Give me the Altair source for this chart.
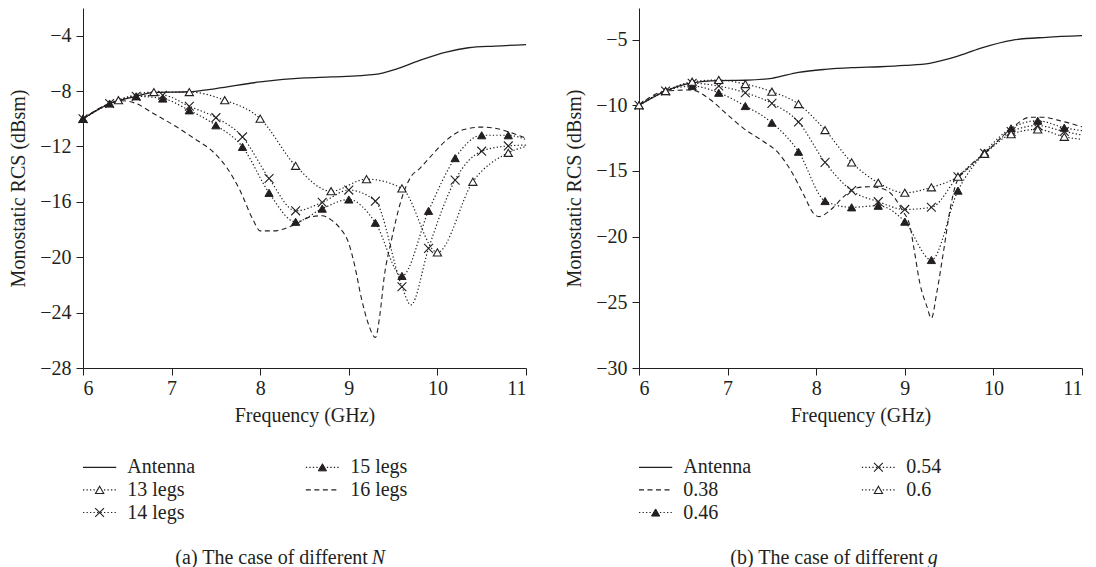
import altair as alt
import pandas as pd
import numpy as np

FONT = "Liberation Serif"
INK = "#231f20"
FS = 20

# ---------------- data: panel (a), different N ----------------
A_ANT_F = [6.0, 6.3, 6.6, 6.8, 7.2, 7.5, 8.0, 8.5, 8.8, 9.3, 9.55, 9.8, 10.1, 10.35, 10.65, 11.0]
A_ANT_V = [-10.0, -8.9, -8.38, -8.1, -8.05, -7.82, -7.34, -7.05, -6.98, -6.8, -6.38, -5.78, -5.18, -4.87, -4.75, -4.65]

A_13_F = [6.0, 6.4, 6.8, 7.2, 7.6, 8.0, 8.4, 8.8, 9.2, 9.6, 10.0, 10.4, 10.8, 11.0]
A_13_V = [-10.0, -8.66, -8.07, -8.07, -8.66, -9.99, -13.4, -15.23, -14.36, -15.03, -19.65, -14.55, -12.46, -12.0]

A_14_F = [6.0, 6.3, 6.6, 6.9, 7.2, 7.5, 7.8, 8.1, 8.4, 8.7, 9.0, 9.3, 9.6, 9.7, 9.9, 10.2, 10.5, 10.8, 11.0]
A_14_V = [-10.0, -8.9, -8.38, -8.3, -9.1, -9.92, -11.31, -14.31, -16.65, -16.04, -15.15, -15.95, -22.13, -23.45, -19.36, -14.43, -12.34, -11.96, -11.9]

A_15_F = [6.0, 6.3, 6.6, 6.9, 7.2, 7.5, 7.8, 8.1, 8.4, 8.7, 9.0, 9.3, 9.6, 9.9, 10.2, 10.5, 10.8, 11.0]
A_15_V = [-10.0, -8.9, -8.38, -8.54, -9.39, -10.47, -12.03, -15.35, -17.44, -16.49, -15.83, -17.51, -21.35, -16.65, -12.84, -11.19, -11.19, -11.5]

A_16_F = [6.0, 6.3, 6.45, 6.6, 6.79, 7.06, 7.25, 7.47, 7.62, 7.77, 7.92, 8.0, 8.15, 8.37, 8.56, 8.7, 8.8, 8.9,
          9.0, 9.07, 9.14, 9.22, 9.3, 9.35, 9.4, 9.48, 9.59, 9.7, 9.8, 9.92, 10.1, 10.3, 10.5, 10.68, 10.86, 11.0]
A_16_V = [-10.0, -8.9, -8.7, -8.9, -9.6, -10.6, -11.4, -12.4, -13.5, -15.15, -17.3, -18.1, -18.1, -17.7, -17.1, -17.0, -17.3, -17.9,
          -19.0, -20.7, -22.9, -24.8, -25.8, -24.2, -21.4, -18.8, -15.9, -14.2, -13.6, -12.75, -11.55, -10.78, -10.6, -10.72, -11.07, -11.4]

# ---------------- data: panel (b), different g ----------------
B_ANT_F = [6.0, 6.3, 6.6, 6.9, 7.2, 7.5, 7.8, 8.1, 8.4, 8.72, 9.0, 9.28, 9.58, 9.85, 10.22, 10.6, 11.0]
B_ANT_V = [-10.0, -8.92, -8.3, -8.13, -8.1, -7.95, -7.5, -7.27, -7.14, -7.07, -6.97, -6.81, -6.31, -5.67, -5.04, -4.83, -4.71]

B_038_F = [6.0, 6.3, 6.59, 6.81, 6.96, 7.18, 7.41, 7.56, 7.71, 7.86, 7.97, 8.03, 8.16, 8.31, 8.45, 8.6, 8.72, 8.84,
           8.97, 9.06, 9.1, 9.17, 9.25, 9.3, 9.36, 9.44, 9.51, 9.58, 9.69, 9.8, 9.9, 10.2, 10.41, 10.56, 10.79, 11.0]
B_038_V = [-10.0, -8.92, -8.84, -9.6, -10.49, -11.76, -12.78, -13.54, -14.93, -16.83, -18.23, -18.48, -17.98, -16.96, -16.3, -16.2, -16.3, -16.7,
           -17.98, -19.25, -20.77, -23.55, -25.33, -26.22, -24.3, -21.0, -17.97, -15.94, -14.93, -14.2, -13.66, -11.8, -10.92, -10.92, -11.25, -11.64]

B_F = [6.0, 6.3, 6.6, 6.9, 7.2, 7.5, 7.8, 8.1, 8.4, 8.7, 9.0, 9.3, 9.6, 9.9, 10.2, 10.5, 10.8, 11.0]
B_046_V = [-10.0, -8.92, -8.54, -9.05, -10.06, -11.33, -13.54, -17.29, -17.77, -17.65, -18.86, -21.78, -16.5, -13.6, -11.76, -11.18, -11.71, -11.94]
B_054_V = [-10.0, -8.92, -8.33, -8.54, -9.05, -9.86, -11.28, -14.35, -16.5, -17.34, -17.93, -17.77, -15.44, -13.66, -12.0, -11.55, -12.0, -12.27]
B_060_V = [-10.0, -8.92, -8.21, -8.08, -8.39, -8.97, -9.91, -11.89, -14.35, -15.9, -16.66, -16.25, -15.44, -13.7, -12.2, -11.84, -12.4, -12.6]

XTICKS = [6, 7, 8, 9, 10, 11]
A_YTICKS = [-28, -24, -20, -16, -12, -8, -4]
B_YTICKS = [-30, -25, -20, -15, -10, -5]
A_YDOM = [-28, -2]
B_YDOM = [-30, -2.6]

# (label, freqs, values, line style, marker, marker step in GHz)
SERIES_A = [
    ("Antenna", A_ANT_F, A_ANT_V, "solid", None, None),
    ("13 legs", A_13_F, A_13_V, "dot", "open", 0.4),
    ("14 legs", A_14_F, A_14_V, "dot", "x", 0.3),
    ("15 legs", A_15_F, A_15_V, "dot", "filled", 0.3),
    ("16 legs", A_16_F, A_16_V, "dash", None, None),
]
SERIES_B = [
    ("Antenna", B_ANT_F, B_ANT_V, "solid", None, None),
    ("0.38", B_038_F, B_038_V, "dash", None, None),
    ("0.46", B_F, B_046_V, "dot", "filled", 0.3),
    ("0.54", B_F, B_054_V, "dot", "x", 0.3),
    ("0.6", B_F, B_060_V, "dot", "open", 0.3),
]

# ---------------- styles / layout ----------------
W, H = 443, 360
LEG_H = 113
LINE = {
    "solid": dict(strokeWidth=1.3),
    "dot": dict(strokeWidth=1.2, strokeDash=[1.3, 2.2]),
    "dash": dict(strokeWidth=1.1, strokeDash=[5, 3.5]),
}
XPATH = "M-1,-1L1,1M-1,1L1,-1"
MARK = {
    "open": dict(shape="triangle-up", filled=True, fill="white", stroke=INK, strokeWidth=1.1, size=68, opacity=1),
    "filled": dict(shape="triangle-up", filled=True, fill=INK, stroke=INK, strokeWidth=1, size=68, opacity=1),
    "x": dict(shape=XPATH, filled=False, stroke=INK, strokeWidth=1.1, size=78, opacity=1),
}
LEG_COL = [0.0, 0.503]
LEG_LEN = 0.075
LEG_TXT = 0.1
CAP_SPLIT = 0.652


def plot_panel(series, ydom, yticks):
    xs = alt.Scale(domain=[6, 11], nice=False, zero=False)
    ys = alt.Scale(domain=ydom, nice=False, zero=False)
    xax = alt.Axis(values=XTICKS, title="Frequency (GHz)", format="d", tickSize=7,
                   labelPadding=3, titleY=47, titleBaseline="middle", grid=False)
    yax = alt.Axis(values=yticks, title="Monostatic RCS (dBsm)", format="d", tickSize=7,
                   labelPadding=5, titleX=-65, titleY=H / 2, titleBaseline="middle", grid=False)
    enc = dict(x=alt.X("f:Q", scale=xs, axis=xax), y=alt.Y("v:Q", scale=ys, axis=yax))
    lines, marks = [], []
    for name, F, V, style, marker, step in series:
        df = pd.DataFrame({"f": F, "v": V, "s": name})
        lines.append(alt.Chart(df).mark_line(interpolate="monotone", color=INK, **LINE[style]).encode(**enc))
        if marker:
            k = (np.array(F) - 6.0) / step
            on = np.isclose(k, np.round(k))
            marks.append(alt.Chart(df[on]).mark_point(**MARK[marker]).encode(**enc))
    return alt.layer(*lines, *marks).properties(width=W, height=H)


def legend_panel(series, cap_main, cap_sym):
    lx = alt.Scale(domain=[0, 1], nice=False, zero=False)
    ly = alt.Scale(domain=[-0.5, 4.5], nice=False, zero=False, reverse=True)
    layers = []
    for i, (name, F, V, style, marker, step) in enumerate(series):
        col, row = divmod(i, 3)
        x0 = LEG_COL[col]
        d = pd.DataFrame({"x": [x0], "x2": [x0 + LEG_LEN], "xm": [x0 + LEG_LEN / 2],
                          "xt": [x0 + LEG_TXT], "y": [row], "label": [name]})
        Y = alt.Y("y:Q", scale=ly, axis=None)
        layers.append(alt.Chart(d).mark_rule(color=INK, **LINE[style]).encode(
            x=alt.X("x:Q", scale=lx, axis=None), x2="x2:Q", y=Y))
        if marker:
            layers.append(alt.Chart(d).mark_point(**MARK[marker]).encode(
                x=alt.X("xm:Q", scale=lx, axis=None), y=Y))
        layers.append(alt.Chart(d).mark_text(align="left", baseline="middle", font=FONT,
                                             fontSize=FS, color=INK).encode(
            x=alt.X("xt:Q", scale=lx, axis=None), y=Y, text="label:N"))
    cap = pd.DataFrame({"xa": [CAP_SPLIT - 0.009], "xb": [CAP_SPLIT], "y": [4],
                        "ta": [cap_main], "tb": [cap_sym]})
    Y = alt.Y("y:Q", scale=ly, axis=None)
    layers.append(alt.Chart(cap).mark_text(align="right", baseline="middle", font=FONT,
                                           fontSize=FS, color=INK).encode(
        x=alt.X("xa:Q", scale=lx, axis=None), y=Y, text="ta:N"))
    layers.append(alt.Chart(cap).mark_text(align="left", baseline="middle", font=FONT,
                                           fontSize=FS, fontStyle="italic", color=INK).encode(
        x=alt.X("xb:Q", scale=lx, axis=None), y=Y, text="tb:N"))
    return alt.layer(*layers).properties(width=W, height=LEG_H)


chart = alt.concat(
    plot_panel(SERIES_A, A_YDOM, A_YTICKS),
    plot_panel(SERIES_B, B_YDOM, B_YTICKS),
    legend_panel(SERIES_A, "(a) The case of different", "N"),
    legend_panel(SERIES_B, "(b) The case of different", "g"),
    columns=2, spacing={"row": 88, "column": 113}, bounds="flush",
).properties(
    padding={"left": 0, "top": 0, "right": 0, "bottom": 0}
).configure_view(stroke=None).configure_axis(
    domainColor=INK, tickColor=INK, labelColor=INK, titleColor=INK,
    labelFont=FONT, titleFont=FONT, labelFontSize=FS, titleFontSize=FS,
    titleFontWeight="normal", domainWidth=1, tickWidth=1, grid=False
)

chart.save("out.html", embed_options={"renderer": "svg", "actions": False})
